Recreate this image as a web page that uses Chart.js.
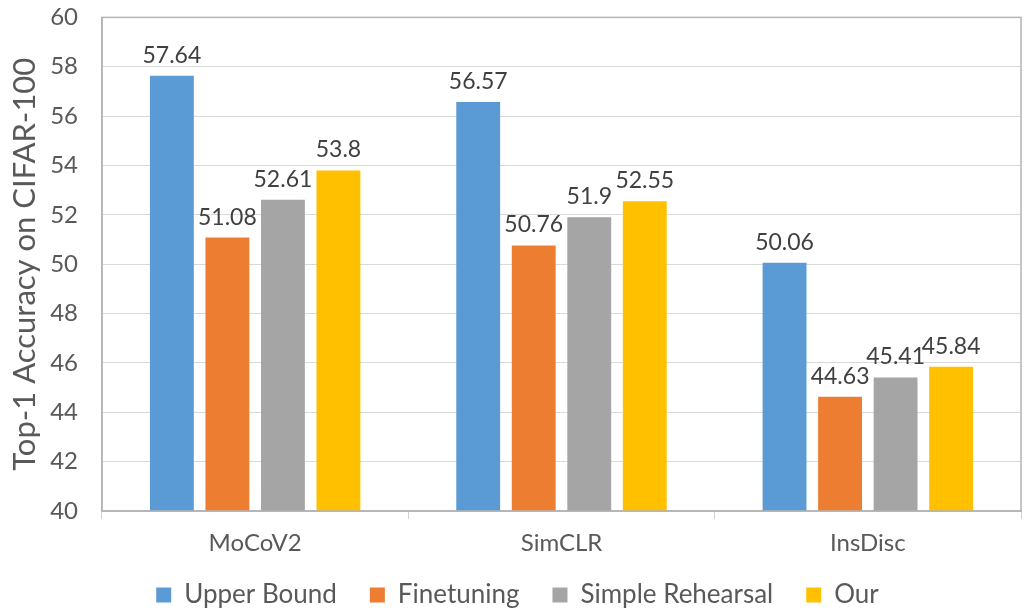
<!DOCTYPE html>
<html>
<head>
<meta charset="utf-8">
<script src="https://cdn.jsdelivr.net/npm/chart.js@4.4.1/dist/chart.umd.min.js"></script>
<style>
  html,body{margin:0;padding:0;background:#fff;}
  #wrap{width:1035px;height:614px;}
</style>
</head>
<body>
<div id="wrap"><canvas id="accCanvas" width="1035" height="614"></canvas></div>
<script>
// data
const methods = ['MoCoV2', 'SimCLR', 'InsDisc'];
const upperBound = [57.64, 56.57, 50.06];
const finetuning = [51.08, 50.76, 44.63];
const simpleRehearsal = [52.61, 51.9, 45.41];
const ours = [53.8, 52.55, 45.84];
const yTicks = [40, 42, 44, 46, 48, 50, 52, 54, 56, 58, 60];

const seriesNames = ['Upper Bound', 'Finetuning', 'Simple Rehearsal', 'Our'];
const seriesColors = ['#5b9bd5', '#ed7d31', '#a5a5a5', '#ffc000'];
const seriesValues = [upperBound, finetuning, simpleRehearsal, ours];

const textGrey = '#595959';
const FONT = 'Lato';
const LEGEND_H = 48;      // height kept for the legend row
const LEGEND_LIFT = 17;   // legend padding is wide for spacing, pull the row back up

// value labels above each bar
const barLabels = {
    id: 'barLabels',
    afterDatasetsDraw(chart){
        const ctx = chart.ctx;
        ctx.save();
        ctx.font = '23px ' + FONT;
        ctx.fillStyle = '#404040';
        ctx.textAlign = 'center';
        ctx.textBaseline = 'alphabetic';
        chart.data.datasets.forEach((ds, i) => {
            chart.getDatasetMeta(i).data.forEach((bar, j) => {
                ctx.fillText(String(ds.data[j]), bar.x, bar.y - 13);
            });
        });
        ctx.restore();
    }
};

// grey outline round the plot area
const plotFrame = {
    id: 'plotFrame',
    afterDraw(chart){
        const a = chart.chartArea;
        const ctx = chart.ctx;
        ctx.save();
        ctx.strokeStyle = '#b4b4b4';
        ctx.lineWidth = 1.5;
        ctx.strokeRect(a.left, a.top, a.right - a.left, a.bottom - a.top);
        ctx.restore();
    }
};

// legend: keep its row short even though item padding is wide,
// and centre it on the whole canvas width
const legendFit = {
    id: 'legendFit',
    beforeUpdate(chart){
        const lg = chart.legend;
        if(!lg || lg._fitPatched) return;
        const fit = lg.fit;
        lg.fit = function(){ fit.call(this); this.height = LEGEND_H; };
        lg._fitPatched = true;
    },
    afterLayout(chart){
        const lg = chart.legend;
        if(!lg) return;
        lg.top -= LEGEND_LIFT;
        lg.left = 0;
        lg.right = chart.width;
        lg.width = chart.width;
    }
};

function drawAccChart(){
    const ctx = document.getElementById('accCanvas').getContext('2d');
    if(window.accChart) window.accChart.destroy();
    window.accChart = new Chart(ctx, {
        type: 'bar',
        data: {
            labels: methods,
            datasets: seriesNames.map((name, i) => ({
                label: name,
                data: seriesValues[i],
                backgroundColor: seriesColors[i],
                borderWidth: 0,
                categoryPercentage: 0.725,
                barPercentage: 0.79
            }))
        },
        options: {
            responsive: false,
            animation: false,
            devicePixelRatio: 1,
            layout: {padding: {top: 0, right: 14, left: 0, bottom: 0}},
            plugins: {
                legend: {
                    position: 'bottom',
                    labels: {
                        font: {family: FONT, size: 26},
                        color: textGrey,
                        boxWidth: 15,
                        boxHeight: 15,
                        padding: 33
                    }
                },
                tooltip: {enabled: false}
            },
            scales: {
                x: {
                    grid: {offset: true, drawOnChartArea: false, tickLength: 8, color: '#d0d0d0'},
                    border: {color: '#bfbfbf', width: 2},
                    ticks: {font: {family: FONT, size: 24}, color: textGrey, padding: 10},
                    afterFit(scale){ scale.height = 55; }
                },
                y: {
                    min: 40,
                    max: 60,
                    afterBuildTicks(scale){ scale.ticks = yTicks.map(v => ({value: v})); },
                    grid: {color: '#d9d9d9', tickLength: 21, tickColor: 'rgba(0,0,0,0)'},
                    border: {color: '#b4b4b4', width: 1.5},
                    ticks: {font: {family: FONT, size: 24}, color: textGrey, padding: 3},
                    title: {
                        display: true,
                        text: 'Top-1 Accuracy on CIFAR-100',
                        font: {family: FONT, size: 31},
                        color: textGrey,
                        padding: {top: 6, bottom: 0}
                    },
                    afterFit(scale){ scale.width = 102; }
                }
            }
        },
        plugins: [barLabels, plotFrame, legendFit]
    });
}

drawAccChart();
</script>
</body>
</html>
